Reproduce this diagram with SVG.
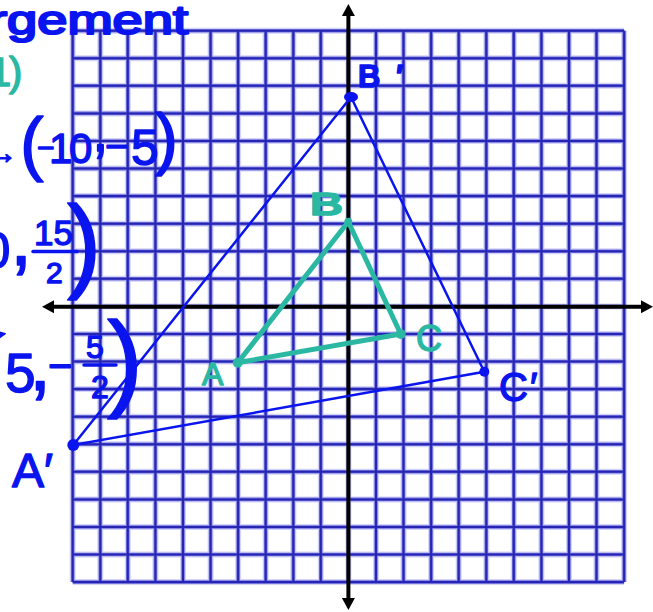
<svg xmlns="http://www.w3.org/2000/svg" width="653" height="612" viewBox="0 0 653 612">
<style>
.halo{fill:none;stroke:#d4d4f6;stroke-width:6}
.mid{fill:none;stroke:#7373e2;stroke-width:3.6}
.gl{fill:none;stroke:#2626b2;stroke-width:2}
.axis{fill:none;stroke:#000;stroke-width:4}
.blue{fill:none;stroke:#0a14ee;stroke-width:2.5;stroke-linecap:round}
.teal{fill:none;stroke:#2bb8a3;stroke-width:5;stroke-linecap:round;stroke-linejoin:round}
.bdot{fill:#0a14ee}
.tdot{fill:#2bb8a3}
.hw{font-family:"Liberation Sans",Arial,sans-serif;fill:#0a14ee;stroke:#0a14ee;stroke-width:1.4;stroke-linejoin:round}
.hwt{font-family:"Liberation Sans",Arial,sans-serif;fill:#2bb8a3;stroke:#2bb8a3;stroke-width:1.4;stroke-linejoin:round}
.bar{stroke:#0a14ee;stroke-width:3.5;stroke-linecap:round}
</style>
<defs>
<marker id="ah" markerUnits="userSpaceOnUse" markerWidth="13" markerHeight="14" refX="0" refY="6.5" orient="auto-start-reverse" viewBox="0 0 13 13">
<path d="M0,0 L12,6.5 L0,13 z" fill="#000"/>
</marker>
<path id="grid" d="M72.7 30.7V582.1M100.3 30.7V582.1M127.8 30.7V582.1M155.4 30.7V582.1M183 30.7V582.1M210.6 30.7V582.1M238.1 30.7V582.1M265.7 30.7V582.1M293.3 30.7V582.1M320.8 30.7V582.1M348.4 30.7V582.1M376 30.7V582.1M403.5 30.7V582.1M431.1 30.7V582.1M458.7 30.7V582.1M486.3 30.7V582.1M513.8 30.7V582.1M541.4 30.7V582.1M569 30.7V582.1M596.5 30.7V582.1M624.1 30.7V582.1M72.7 30.7H624.1M72.7 58.3H624.1M72.7 85.8H624.1M72.7 113.4H624.1M72.7 141H624.1M72.7 168.6H624.1M72.7 196.1H624.1M72.7 223.7H624.1M72.7 251.3H624.1M72.7 278.8H624.1M72.7 306.4H624.1M72.7 334H624.1M72.7 361.5H624.1M72.7 389.1H624.1M72.7 416.7H624.1M72.7 444.3H624.1M72.7 471.8H624.1M72.7 499.4H624.1M72.7 527H624.1M72.7 554.5H624.1M72.7 582.1H624.1"/>
</defs>
<rect width="653" height="612" fill="#fff"/>
<g id="grid-paper">
<use href="#grid" class="halo"/>
<use href="#grid" class="mid"/>
<use href="#grid" class="gl"/>
</g>
<g id="axes">
<path class="axis" d="M54 306.7H641" marker-start="url(#ah)" marker-end="url(#ah)"/>
<path class="axis" d="M348.4 16V598" marker-start="url(#ah)" marker-end="url(#ah)"/>
</g>
<g id="notes">
<text class="hw" x="-11" y="34" font-size="40" textLength="199" lengthAdjust="spacingAndGlyphs" style="stroke-width:2.2">rgement</text>
<text class="hwt" x="-11 9" y="86" font-size="40">1)</text>
<text class="hw"><tspan x="-13" y="163" font-size="30">→</tspan><tspan x="20" y="167" font-size="71">(</tspan><tspan x="37" y="158" font-size="30">−</tspan><tspan x="49 69" y="163" font-size="42">10</tspan><tspan x="92" y="151" font-size="60">,</tspan><tspan x="105" y="160" font-size="40">−</tspan><tspan x="131" y="165" font-size="50">5</tspan><tspan x="155" y="162" font-size="69">)</tspan></text>
<text class="hw"><tspan x="-17.5" y="268" font-size="50">0</tspan><tspan x="10" y="265" font-size="80">,</tspan><tspan x="34" y="245" font-size="35">15</tspan><tspan x="46" y="283" font-size="30">2</tspan><tspan x="67" y="278" font-size="103">)</tspan></text>
<line class="bar" x1="33" y1="251.5" x2="77" y2="251.5"/>
<text class="hw"><tspan x="-40" y="389" font-size="90" rotate="15">(</tspan><tspan x="5" y="392" font-size="55">5</tspan><tspan x="29" y="390" font-size="80">,</tspan><tspan x="48" y="380" font-size="42">−</tspan><tspan x="86" y="358" font-size="32">5</tspan><tspan x="91" y="398" font-size="32">2</tspan><tspan x="107" y="397" font-size="108">)</tspan></text>
<line class="bar" x1="84" y1="365" x2="116" y2="365"/>
</g>
<g id="connectors">
<path class="blue" d="M73.3 445L351 97L484.3 371.7Z"/>
<path class="teal" d="M237.7 362.7L348.3 221.7L400.7 334Z"/>
</g>
<g id="node-A1">
<circle class="bdot" cx="73.3" cy="445" r="6"/>
<text class="hw" x="12 44" y="487" font-size="48">A′</text>
</g>
<g id="node-B1">
<ellipse class="bdot" cx="351" cy="97" rx="7" ry="5"/>
<text class="hw" x="358 396" y="87" font-size="31" font-weight="bold">B′</text>
</g>
<g id="node-C1">
<circle class="bdot" cx="484.3" cy="371.7" r="5"/>
<text class="hw" x="499 530" y="401" font-size="40">C′</text>
</g>
<g id="node-A">
<circle class="tdot" cx="237.7" cy="362.7" r="5"/>
<text class="hwt" x="202" y="385" font-size="32">A</text>
</g>
<g id="node-B">
<circle class="tdot" cx="348.3" cy="221.7" r="4"/>
<text class="hwt" x="310" y="215" font-size="32" font-weight="bold" textLength="33" lengthAdjust="spacingAndGlyphs">B</text>
</g>
<g id="node-C">
<circle class="tdot" cx="400.7" cy="334" r="5"/>
<text class="hwt" x="416" y="351" font-size="36">C</text>
</g>
</svg>
